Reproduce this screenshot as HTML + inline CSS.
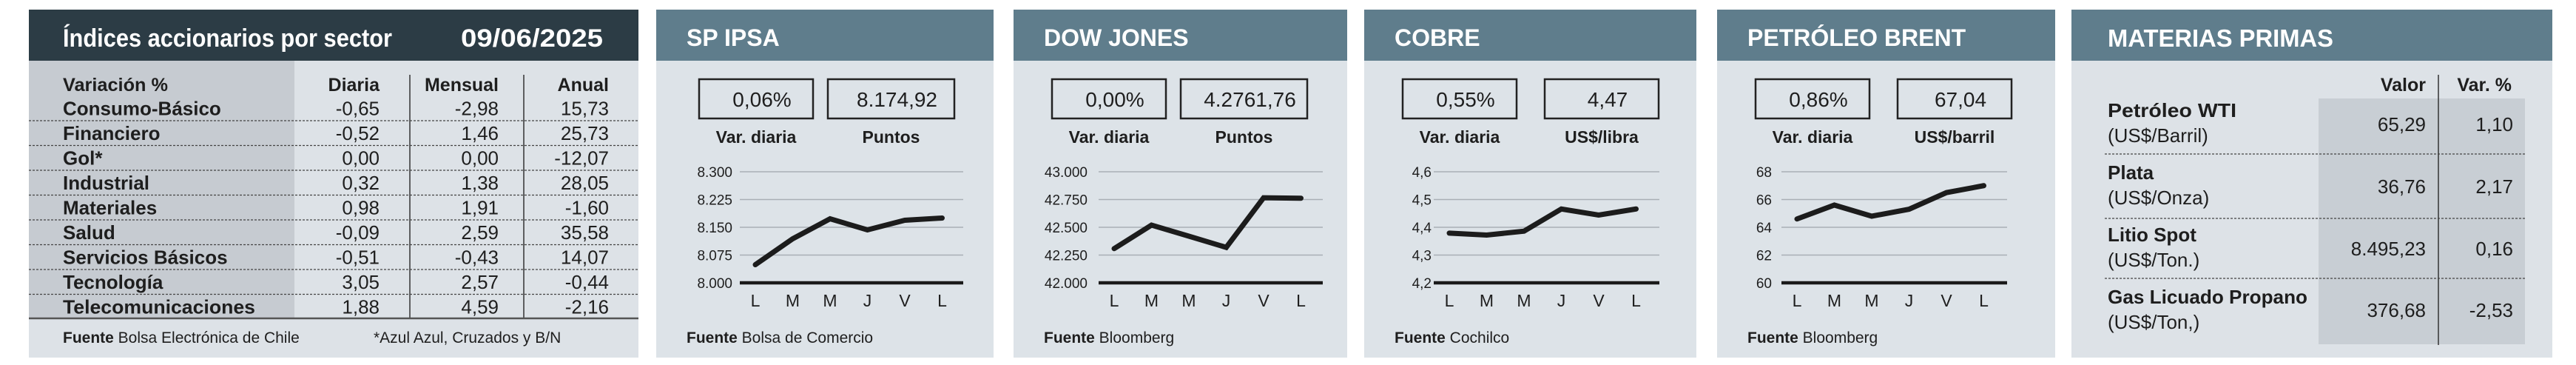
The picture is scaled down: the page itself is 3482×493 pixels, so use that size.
<!DOCTYPE html>
<html><head><meta charset="utf-8"><style>
html,body{margin:0;padding:0;background:#fff;}
svg{display:block;}
text{font-family:"Liberation Sans",sans-serif;fill:#1e1e1e;}
.b{font-weight:bold;}
.hw{fill:#fff;font-weight:bold;}
</style></head><body>
<svg id="main" width="3482" height="493" viewBox="0 0 3482 493" xmlns="http://www.w3.org/2000/svg">
<rect x="0" y="0" width="3482" height="493" fill="#fff"/>

<!-- Panel 1: sector table -->
<g>
<rect x="39" y="13" width="824" height="470" fill="#dde2e7"/>
<rect x="39" y="82" width="359" height="348" fill="#c6cbd1"/>
<rect x="39" y="13" width="824" height="69" fill="#2c3c45"/>
<text x="85" y="63" class="hw" font-size="34" textLength="445" lengthAdjust="spacingAndGlyphs">Índices accionarios por sector</text>
<text x="623" y="63" class="hw" font-size="34" textLength="192" lengthAdjust="spacingAndGlyphs">09/06/2025</text>
<line x1="554" y1="101" x2="554" y2="430" stroke="#333" stroke-width="1.5"/>
<line x1="708" y1="101" x2="708" y2="430" stroke="#333" stroke-width="1.5"/>
<g stroke="#444" stroke-width="1.2" stroke-dasharray="3 2">
<line x1="39" x2="863" y1="163" y2="163"/><line x1="39" x2="863" y1="196.5" y2="196.5"/><line x1="39" x2="863" y1="230" y2="230"/><line x1="39" x2="863" y1="263.5" y2="263.5"/><line x1="39" x2="863" y1="297" y2="297"/><line x1="39" x2="863" y1="330.5" y2="330.5"/><line x1="39" x2="863" y1="364" y2="364"/><line x1="39" x2="863" y1="397.5" y2="397.5"/>
</g>
<line x1="39" y1="430" x2="863" y2="430" stroke="#555" stroke-width="2.5"/>
<g font-size="25" class="b">
<text x="85" y="123" class="b" textLength="142" lengthAdjust="spacingAndGlyphs">Variación %</text>
<text x="513" y="123" class="b" text-anchor="end">Diaria</text>
<text x="674" y="123" class="b" text-anchor="end">Mensual</text>
<text x="823" y="123" class="b" text-anchor="end">Anual</text>
</g>
<g id="sectorRows"></g>
<text x="85" y="463" font-size="21"><tspan class="b">Fuente</tspan> Bolsa Electrónica de Chile</text>
<text x="505" y="463" font-size="21">*Azul Azul, Cruzados y B/N</text>
</g>

<!-- Materias primas -->
<g>
<rect x="2800" y="13" width="650" height="470" fill="#dde2e7"/>
<rect x="3134" y="133" width="279" height="332" fill="#c8ced4"/>
<rect x="2800" y="13" width="650" height="69" fill="#5f7d8c"/>
<text x="2849" y="63" class="hw" font-size="33" textLength="305" lengthAdjust="spacingAndGlyphs">MATERIAS PRIMAS</text>
<line x1="3296" y1="101" x2="3296" y2="466" stroke="#333" stroke-width="1.5"/>
<g stroke="#444" stroke-width="1.2" stroke-dasharray="3 2">
<line x1="2845" x2="3413" y1="208" y2="208"/><line x1="2845" x2="3413" y1="295" y2="295"/><line x1="2845" x2="3413" y1="376" y2="376"/>
</g>
<text x="3279" y="123" font-size="25" class="b" text-anchor="end">Valor</text>
<text x="3395" y="123" font-size="25" class="b" text-anchor="end">Var. %</text>
<g font-size="26">
<text x="2849" y="158" class="b" textLength="174" lengthAdjust="spacingAndGlyphs">Petróleo WTI</text>
<text x="2849" y="192">(US$/Barril)</text>
<text x="3279" y="177" text-anchor="end">65,29</text>
<text x="3397" y="177" text-anchor="end">1,10</text>
<text x="2849" y="242" class="b">Plata</text>
<text x="2849" y="276">(US$/Onza)</text>
<text x="3279" y="261" text-anchor="end">36,76</text>
<text x="3397" y="261" text-anchor="end">2,17</text>
<text x="2849" y="326" class="b">Litio Spot</text>
<text x="2849" y="360">(US$/Ton.)</text>
<text x="3279" y="345" text-anchor="end">8.495,23</text>
<text x="3397" y="345" text-anchor="end">0,16</text>
<text x="2849" y="410" class="b" textLength="270" lengthAdjust="spacingAndGlyphs">Gas Licuado Propano</text>
<text x="2849" y="444">(US$/Ton,)</text>
<text x="3279" y="428" text-anchor="end">376,68</text>
<text x="3397" y="428" text-anchor="end">-2,53</text>
</g>
</g>

<g id="charts"></g>
</svg>
<script>
const NS = "http://www.w3.org/2000/svg";
// Sector table data
const sectorNames = ["Consumo-Básico","Financiero","Gol*","Industrial","Materiales","Salud","Servicios Básicos","Tecnología","Telecomunicaciones"];
const sectorDiaria = ["-0,65","-0,52","0,00","0,32","0,98","-0,09","-0,51","3,05","1,88"];
const sectorMensual = ["-2,98","1,46","0,00","1,38","1,91","2,59","-0,43","2,57","4,59"];
const sectorAnual = ["15,73","25,73","-12,07","28,05","-1,60","35,58","14,07","-0,44","-2,16"];

// Chart data
const dayLabels = ["L","M","M","J","V","L"];
const ipsaValues = [8049, 8119, 8173, 8143, 8169, 8175];
const ipsaTicks = [8000, 8075, 8150, 8225, 8300];
const ipsaTickLabels = ["8.000","8.075","8.150","8.225","8.300"];
const dowValues = [42308, 42520, 42420, 42319, 42766, 42762];
const dowTicks = [42000, 42250, 42500, 42750, 43000];
const dowTickLabels = ["42.000","42.250","42.500","42.750","43.000"];
const cobreValues = [4.379, 4.372, 4.386, 4.466, 4.444, 4.466];
const cobreTicks = [4.2, 4.3, 4.4, 4.5, 4.6];
const cobreTickLabels = ["4,2","4,3","4,4","4,5","4,6"];
const brentValues = [64.6, 65.6, 64.8, 65.3, 66.5, 67.0];
const brentTicks = [60, 62, 64, 66, 68];
const brentTickLabels = ["60","62","64","66","68"];

function mk(tag, attrs, parent, txt){
  const el = document.createElementNS(NS, tag);
  for (const k in attrs) el.setAttribute(k, attrs[k]);
  if (txt !== undefined) el.textContent = txt;
  parent.appendChild(el);
  return el;
}

const rowsG = document.getElementById("sectorRows");
sectorNames.forEach((n, i) => {
  const y = 155.5 + i * 33.5;
  const a = {x:85, y:y, "font-size":26, "class":"b"};
  if (n === "Telecomunicaciones") { a.textLength = 260; a.lengthAdjust = "spacingAndGlyphs"; }
  const l = mk("text", a, rowsG, n);
  
  
  const d = mk("text", {x:513, y:y, "font-size":26, "text-anchor":"end"}, rowsG, sectorDiaria[i]);
  
  
  const m = mk("text", {x:674, y:y, "font-size":26, "text-anchor":"end"}, rowsG, sectorMensual[i]);
  
  
  const an = mk("text", {x:823, y:y, "font-size":26, "text-anchor":"end"}, rowsG, sectorAnual[i]);
  
  
});

const panels = [
  {key:"sp-ipsa", title:"SP IPSA", left:887, w:456, b1:[58,212], b2:[232,403], v1:"0,06%", v2:"8.174,92", l2:"Puntos", src:"Bolsa de Comercio", gx0:113, gx1:415, tr:103, vals:ipsaValues, ticks:ipsaTicks, tl:ipsaTickLabels},
  {key:"dow-jones", title:"DOW JONES", left:1370, w:451, b1:[52,206], b2:[226,397], v1:"0,00%", v2:"4.2761,76", l2:"Puntos", src:"Bloomberg", gx0:115, gx1:418, tr:100, vals:dowValues, ticks:dowTicks, tl:dowTickLabels},
  {key:"cobre", title:"COBRE", left:1844, w:449, b1:[52,206], b2:[244,398], v1:"0,55%", v2:"4,47", l2:"US$/libra", src:"Cochilco", gx0:94, gx1:399, tr:91, vals:cobreValues, ticks:cobreTicks, tl:cobreTickLabels},
  {key:"brent", title:"PETRÓLEO BRENT", left:2321, w:457, b1:[52,206], b2:[244,398], v1:"0,86%", v2:"67,04", l2:"US$/barril", src:"Bloomberg", gx0:87, gx1:392, tr:74, vals:brentValues, ticks:brentTicks, tl:brentTickLabels}
];

const chartsG = document.getElementById("charts");
const yTop = 232, yBase = 382;
panels.forEach(p => {
  const g = mk("g", {transform:`translate(${p.left},0)`}, chartsG);
  
  
  const body = mk("rect", {x:0, y:13, width:p.w, height:470, fill:"#dde3e8"}, g);
  
  
  const hdr = mk("rect", {x:0, y:13, width:p.w, height:69, fill:"#5f7d8c"}, g);
  
  
  const tt = mk("text", {x:41, y:62, "font-size":32, "class":"hw"}, g, p.title);
  
  
  [[p.b1, p.v1, "var-diaria"], [p.b2, p.v2, "value"]].forEach(([b, v, nm]) => {
    const r = mk("rect", {x:b[0], y:107, width:b[1]-b[0], height:53, fill:"none", stroke:"#222", "stroke-width":2.5}, g);
    
    
    const t = mk("text", {x:(b[0]+b[1])/2 + 8, y:144, "font-size":28, "text-anchor":"middle"}, g, v);
    
    
  });
  const la = mk("text", {x:(p.b1[0]+p.b1[1])/2, y:193, "font-size":23, "class":"b", "text-anchor":"middle"}, g, "Var. diaria");
  
  
  const lb = mk("text", {x:(p.b2[0]+p.b2[1])/2, y:193, "font-size":23, "class":"b", "text-anchor":"middle"}, g, p.l2);
  
  

  const tMin = p.ticks[0], tMax = p.ticks[p.ticks.length-1];
  const yS = v => yBase - (v - tMin) / (tMax - tMin) * (yBase - yTop);
  const xS = i => p.gx0 + 21 + i * 50.5;
  p.ticks.forEach((t, i) => {
    const y = yS(t);
    const gl = mk("line", {x1:p.gx0, x2:p.gx1, y1:y, y2:y, stroke: i===0 ? "#1a1a1a" : "#a9afb5", "stroke-width": i===0 ? 4.5 : 1.5}, g);
    
    
    const tl = mk("text", {x:p.tr, y:y+7, "font-size":19, "text-anchor":"end", fill:"#333"}, g, p.tl[i]);
    
    
  });
  dayLabels.forEach((d, i) => {
    const xl = mk("text", {x:xS(i), y:414, "font-size":23, "text-anchor":"middle", fill:"#333"}, g, d);
    
    
  });
  const pts = p.vals.map((v, i) => xS(i) + "," + yS(v)).join(" ");
  const line = mk("polyline", {points:pts, fill:"none", stroke:"#1c1c1c", "stroke-width":7, "stroke-linejoin":"miter", "stroke-linecap":"round"}, g);
  
  
  const s = mk("text", {x:41, y:463, "font-size":21}, g);
  
  
  const sb = mk("tspan", {"class":"b"}, s, "Fuente");
  
  
  const sr = mk("tspan", {}, s, " " + p.src);
  
  
});
</script>
</body></html>
